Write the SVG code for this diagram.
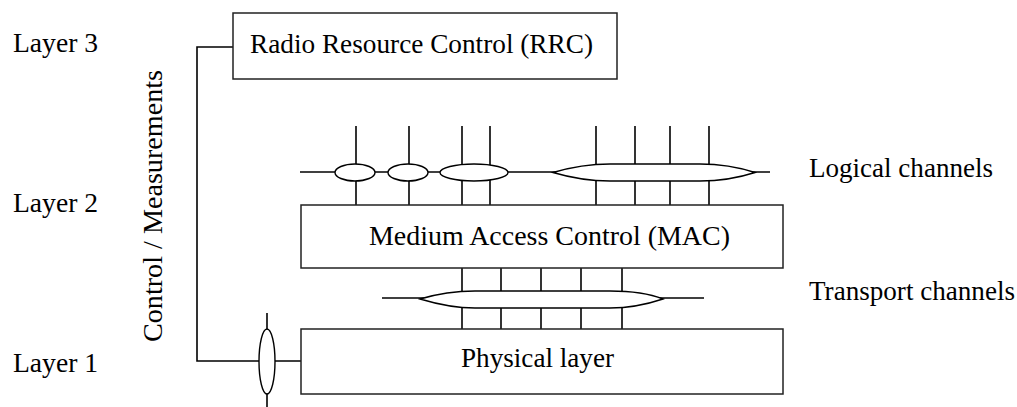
<svg xmlns="http://www.w3.org/2000/svg" width="1017" height="407" viewBox="0 0 1017 407">
<style>
.box{fill:#fff;stroke:#222;stroke-width:1.5}
.ln{fill:none;stroke:#000;stroke-width:1.6}
.bun{fill:#fff;stroke:#000;stroke-width:1.4}
.t{font-family:'Liberation Serif','Times New Roman',Times,'DejaVu Serif',serif;font-size:27px;fill:#000}
</style>
<rect width="1017" height="407" fill="#fff"/>
<g id="labels">
<text class="t" x="13" y="52" textLength="85" lengthAdjust="spacingAndGlyphs">Layer 3</text>
<text class="t" x="13" y="212" textLength="85" lengthAdjust="spacingAndGlyphs">Layer 2</text>
<text class="t" x="13" y="372" textLength="85" lengthAdjust="spacingAndGlyphs">Layer 1</text>
<text class="t" transform="translate(162,342) rotate(-90)" x="0" y="0" textLength="272" lengthAdjust="spacingAndGlyphs">Control / Measurements</text>
<text class="t" x="809" y="177" textLength="184" lengthAdjust="spacingAndGlyphs">Logical channels</text>
<text class="t" x="809" y="300" textLength="206" lengthAdjust="spacingAndGlyphs">Transport channels</text>
</g>
<g id="connectors">
<polyline class="ln" points="233,47 197,47 197,361 301,361"/>
<line class="ln" x1="267" y1="313" x2="267" y2="407"/>
<line class="ln" x1="300" y1="172" x2="770" y2="172"/>
<g class="ln">
<line x1="356" y1="126" x2="356" y2="205"/>
<line x1="409" y1="126" x2="409" y2="205"/>
<line x1="462" y1="126" x2="462" y2="205"/>
<line x1="490" y1="126" x2="490" y2="205"/>
<line x1="596" y1="126" x2="596" y2="205"/>
<line x1="635" y1="126" x2="635" y2="205"/>
<line x1="670" y1="126" x2="670" y2="205"/>
<line x1="709" y1="126" x2="709" y2="205"/>
</g>
<line class="ln" x1="382" y1="298" x2="704" y2="298"/>
<g class="ln">
<line x1="462" y1="268" x2="462" y2="329"/>
<line x1="501" y1="268" x2="501" y2="329"/>
<line x1="541" y1="268" x2="541" y2="329"/>
<line x1="581" y1="268" x2="581" y2="329"/>
<line x1="622" y1="268" x2="622" y2="329"/>
</g>
<ellipse class="bun" cx="267" cy="361.5" rx="8" ry="32.5"/>
<ellipse class="bun" cx="355" cy="172.5" rx="20" ry="8.5"/>
<ellipse class="bun" cx="408" cy="172.5" rx="20" ry="8.5"/>
<ellipse class="bun" cx="474" cy="172.5" rx="34" ry="8.5"/>
<path class="bun" d="M553,172.5 C575,166 590,164 610,164 L700,164 C720,164 738,167 755,172.5 C738,178 720,181 700,181 L610,181 C590,181 575,179 553,172.5 Z"/>
<path class="bun" d="M420,299 C440,293 455,291 475,291 L610,291 C630,291 648,293 663,299 C648,304 630,308 610,308 L475,308 C455,308 440,305 420,299 Z"/>
</g>
<g id="rrc">
<rect class="box" x="233" y="13" width="384" height="66"/>
<text class="t" x="250" y="53" textLength="343" lengthAdjust="spacingAndGlyphs">Radio Resource Control (RRC)</text>
</g>
<g id="mac">
<rect class="box" x="301" y="205" width="482" height="63"/>
<text class="t" x="369" y="245" textLength="361" lengthAdjust="spacingAndGlyphs">Medium Access Control (MAC)</text>
</g>
<g id="phy">
<rect class="box" x="301" y="329" width="482" height="65"/>
<text class="t" x="461" y="367" textLength="153" lengthAdjust="spacingAndGlyphs">Physical layer</text>
</g>
</svg>
